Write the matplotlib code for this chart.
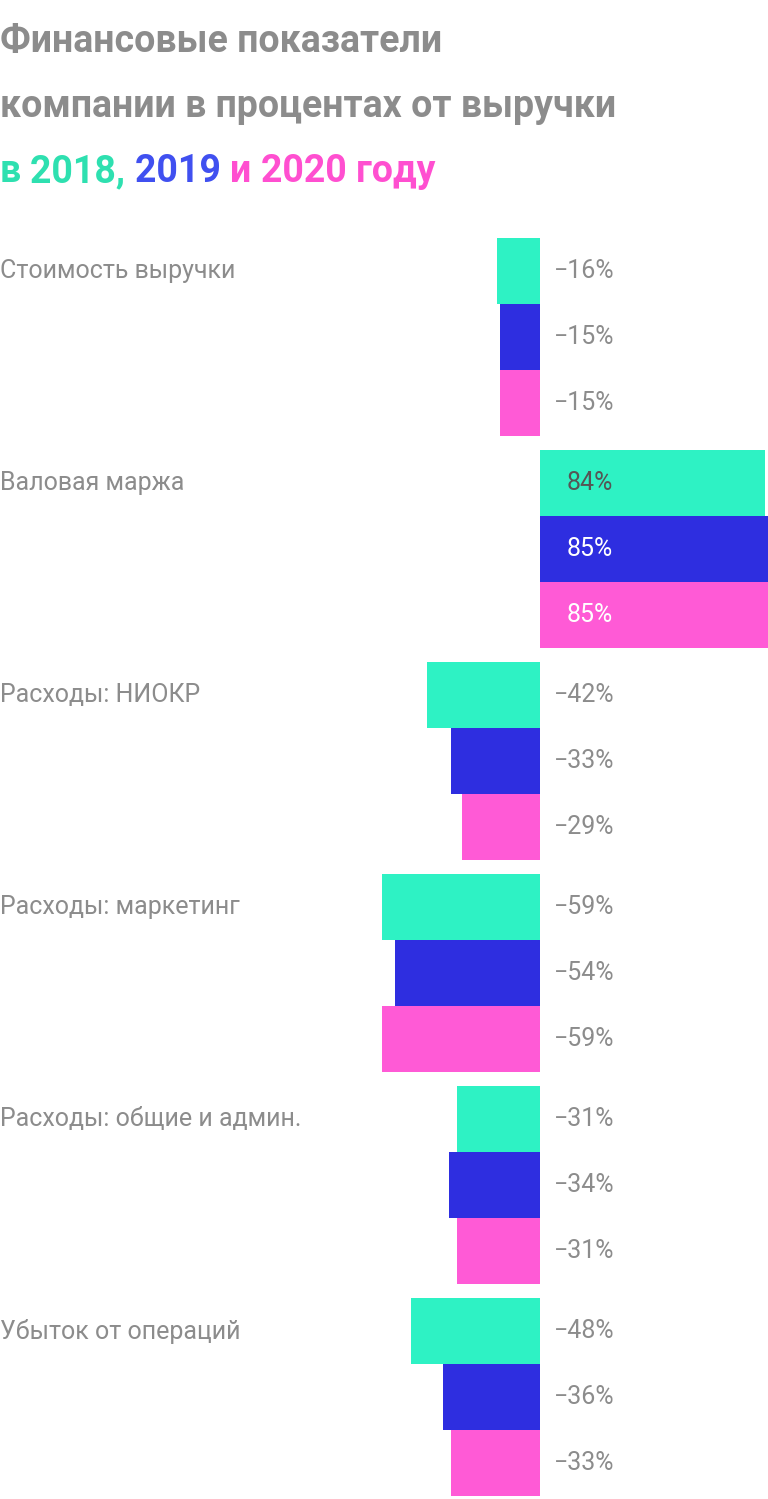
import matplotlib
matplotlib.use("Agg")
import matplotlib.pyplot as plt

categories = ["Стоимость выручки", "Валовая маржа", "Расходы: НИОКР",
              "Расходы: маркетинг", "Расходы: общие и админ.", "Убыток от операций"]
years = ["2018", "2019", "2020"]
v2018 = [-16, 84, -42, -59, -31, -48]
v2019 = [-15, 85, -33, -54, -34, -36]
v2020 = [-15, 85, -29, -59, -31, -33]
colors = ["#2EF2C4", "#2E2EE0", "#FF5AD6"]
title_colors = ["#2EE0B0", "#4050F0", "#FF4FD0"]
grey = "#8C8C8C"

W, H = 768, 1499
fig = plt.figure(figsize=(W/100, H/100), dpi=100)
ax = fig.add_axes([0, 0, 1, 1])
ax.set_xlim(-540/2.682, 228/2.682)
ax.set_ylim(H, 0)
ax.axis("off")

top0, gstep, bh = 238, 212, 66
fam = ["Roboto", "DejaVu Sans"]
for g, cat in enumerate(categories):
    vals = [v2018[g], v2019[g], v2020[g]]
    for k, v in enumerate(vals):
        yc = top0 + g*gstep + k*bh + bh/2
        ax.barh(yc, v, height=bh, color=colors[k], left=0)
        if v < 0:
            ax.text(14/2.682, yc, f"−{abs(v)}%", ha="left", va="center",
                    fontsize=18, color=grey, family=fam)
        else:
            ax.text(27/2.682, yc, f"{v}%", ha="left", va="center", fontsize=18,
                    color="#555555" if k == 0 else "white", family=fam)
    ax.text(ax.get_xlim()[0], top0 + g*gstep + bh/2, cat, ha="left", va="center",
            fontsize=18, color=grey, family=fam)

tfs = 27
fig.text(0.0, 1 - 52/H, "Финансовые показатели", fontsize=tfs, weight="bold",
         color=grey, family=fam, va="baseline")
fig.text(0.0, 1 - 117/H, "компании в процентах от выручки", fontsize=tfs,
         weight="bold", color=grey, family=fam, va="baseline")
parts = [("в ", title_colors[0]), ("2018, ", title_colors[0]), ("2019 ", title_colors[1]),
         ("и ", title_colors[2]), ("2020 году", title_colors[2])]
fig.canvas.draw()
r = fig.canvas.get_renderer()
x = 0.0
for s, c in parts:
    t = fig.text(x, 1 - 182/H, s, fontsize=tfs, weight="bold", color=c,
                 family=fam, va="baseline")
    bb = t.get_window_extent(renderer=r)
    x += bb.width / W
    if s.endswith(" "):
        x += 0.0
fig.savefig("out.png", dpi=100)
